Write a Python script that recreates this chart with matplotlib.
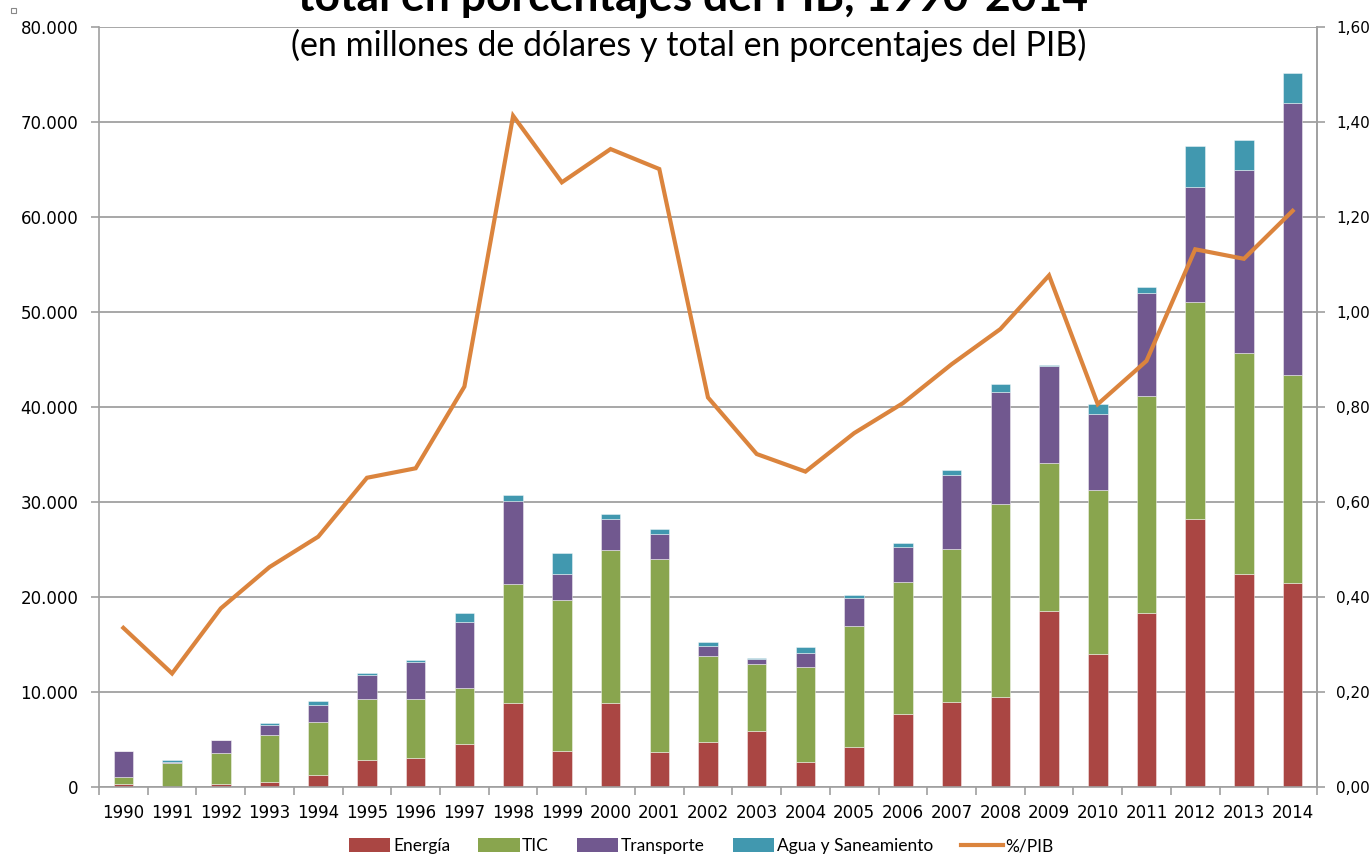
import numpy as np
import matplotlib
matplotlib.use("Agg")
import matplotlib.pyplot as plt
from matplotlib.patches import Rectangle, Patch
from matplotlib.lines import Line2D
from matplotlib.ticker import FuncFormatter, FixedLocator


# data (millones de dolares)
years = list(range(1990, 2015))
energia = [300, 50, 280, 500, 1300, 2880, 3020, 4490, 8810, 3820,
           8810, 3680, 4770, 5890, 2670, 4250, 7680, 8910, 9470, 18560,
           14030, 18280, 28210, 22420, 21440]
tic = [750, 2510, 3270, 4970, 5540, 6350, 6210, 5930, 12530, 15860,
       16100, 20290, 9020, 7020, 9960, 12700, 13930, 16140, 20290, 15580,
       17200, 22910, 22870, 23300, 21960]
transporte = [2750, 100, 1400, 1060, 1790, 2590, 3960, 6980, 8800, 2740,
              3300, 2690, 1050, 530, 1510, 2980, 3690, 7830, 11820, 10210,
              8000, 10840, 12110, 19260, 28630]
agua = [30, 180, 30, 170, 450, 150, 150, 880, 560, 2210,
        560, 460, 420, 140, 560, 280, 420, 450, 840, 100,
        1120, 570, 4280, 3090, 3160]
pib = [0.335, 0.239, 0.376, 0.463, 0.527, 0.651, 0.671, 0.843, 1.413, 1.273,
       1.343, 1.301, 0.820, 0.701, 0.664, 0.745, 0.808, 0.890, 0.964, 1.077,
       0.806, 0.897, 1.132, 1.112, 1.213]

series = [("Energía", energia, "#AA4643"),
          ("TIC", tic, "#89A54E"),
          ("Transporte", transporte, "#71588F"),
          ("Agua y Saneamiento", agua, "#4198AF")]
line_color = "#DB843D"
grid_color = "#a0a0a0"

fig = plt.figure(figsize=(13.72, 8.56), dpi=100)
ax = fig.add_axes([99/1372, 1 - 787/856, (1317 - 99)/1372, (787 - 27)/856])

x = np.arange(len(years))
bottom = np.zeros(len(years))
for name, vals, col in series:
    ax.bar(x, vals, width=0.4, bottom=bottom, color=col, edgecolor=(1, 1, 1, 0.5),
           linewidth=0.6, zorder=2)
    bottom += np.array(vals)

ax.set_xlim(-0.5, len(years) - 0.5)
ax.set_ylim(0, 80000)
ax.set_yticks(np.arange(0, 80001, 10000))
ax.yaxis.set_major_formatter(FuncFormatter(
    lambda v, p: "0" if v == 0 else f"{int(v):,}".replace(",", ".")))
ax.set_xticks(x)
ax.set_xticklabels([str(y) for y in years])
ax.xaxis.set_minor_locator(FixedLocator(np.arange(-0.5, len(years), 1.0)))
ax.tick_params(axis="x", which="major", length=0, pad=12, labelsize=12)
ax.tick_params(axis="x", which="minor", length=6, color=grid_color, width=1.2)
ax.tick_params(axis="y", length=6, color=grid_color, width=1.2, labelsize=12, pad=9)
ax.grid(axis="y", color=grid_color, linewidth=1.3, zorder=0)
ax.set_axisbelow(True)
ax.spines["top"].set_visible(False)
for s in ["left", "bottom", "right"]:
    ax.spines[s].set_color(grid_color)
    ax.spines[s].set_linewidth(1.2)

ax2 = ax.twinx()
ax2.plot(x, pib, color=line_color, linewidth=3, solid_joinstyle="miter", zorder=3)
ax2.set_ylim(0, 1.6)
ax2.set_yticks(np.arange(0, 1.61, 0.2))
ax2.yaxis.set_major_formatter(FuncFormatter(lambda v, p: f"{v:.2f}".replace(".", ",")))
ax2.tick_params(axis="y", length=6, color=grid_color, width=1.2, labelsize=11, pad=8)
for s in ["top", "left", "bottom"]:
    ax2.spines[s].set_visible(False)
ax2.spines["right"].set_color(grid_color)
ax2.spines["right"].set_linewidth(1.2)

# titles (upper title is cut off by the top edge, as in the source)
fig.text(0.505, 1 - 10/856, "total en porcentajes del PIB, 1990-2014", ha="center",
         va="baseline", fontsize=32, fontweight="bold", family="Lato")
fig.text(0.502, 1 - 45/856, "(en millones de dólares y total en porcentajes del PIB)",
         ha="center", va="center", fontsize=24.5, family="Lato")

# small marker square in the corner
fig.patches.append(Rectangle((11/1372, 1 - 13/856), 5/1372, 5/856, fill=False,
                             edgecolor="#888888", linewidth=0.8,
                             transform=fig.transFigure, figure=fig))

handles = [Patch(facecolor=c, edgecolor="none", label=n) for n, v, c in series]
handles.append(Line2D([0], [0], color=line_color, linewidth=3, label="%/PIB"))
fig.legend(handles=handles, loc="center", bbox_to_anchor=(0.511, 10/856), ncol=5,
           frameon=False, prop={"family": "Lato", "size": 12.5},
           handlelength=2.4, handleheight=0.85, handletextpad=0.15, columnspacing=1.6)

fig.savefig("out.png", dpi=100)
